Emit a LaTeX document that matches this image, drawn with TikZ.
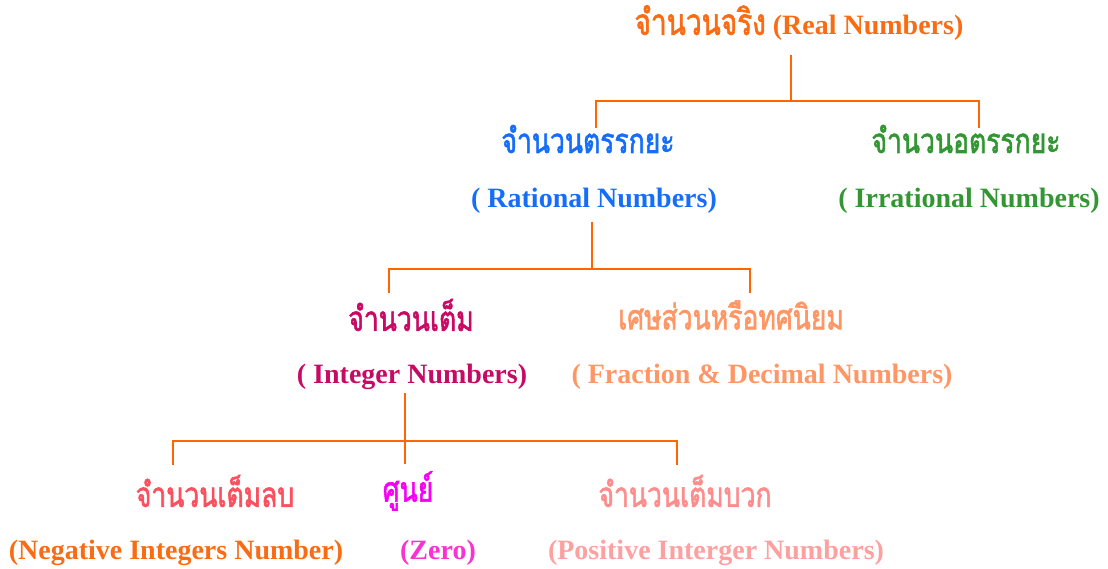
\documentclass[tikz,border=0pt]{standalone}
\usepackage{fontspec}
\setmainfont{Liberation Serif}
\newfontfamily\thaiface[Script=Thai, AutoFakeBold=2]{Loma}
\newcommand{\thtxt}[1]{\scalebox{1}[1.3]{\thaiface\bfseries #1}}
\definecolor{lineor}{RGB}{255,102,0}
\definecolor{cReal}{RGB}{250,108,20}
\definecolor{cRat}{RGB}{20,110,250}
\definecolor{cIrr}{RGB}{50,150,50}
\definecolor{cInt}{RGB}{200,10,100}
\definecolor{cFrac}{RGB}{255,150,100}
\definecolor{cNegT}{RGB}{250,80,95}
\definecolor{cNegE}{RGB}{250,108,20}
\definecolor{cZeroT}{RGB}{245,0,245}
\definecolor{cZeroE}{RGB}{250,50,210}
\definecolor{cPos}{RGB}{255,140,140}
\definecolor{cPosE}{RGB}{255,160,160}
\tikzset{
  lbl/.style={inner sep=0pt, font=\fontsize{28}{32}\selectfont\bfseries},
  th/.style={inner sep=0pt, font=\fontsize{26.5}{32}\selectfont},
  link/.style={draw=lineor, line width=2pt}
}
\begin{document}
\begin{tikzpicture}[x=1pt,y=-1pt]
\useasboundingbox (0,0) rectangle (1108,569);
% texts
\node[lbl, text=cReal] (real) at (799,23) {\thtxt{จำนวนจริง} (Real Numbers)};
\node[th, text=cRat] (ratT) at (588,139) {\thtxt{จำนวนตรรกยะ}};
\node[lbl, text=cRat] (ratE) at (594,201) {( Rational Numbers)};
\node[th, text=cIrr] (irrT) at (966,139) {\thtxt{จำนวนอตรรกยะ}};
\node[lbl, text=cIrr] (irrE) at (969,201) {( Irrational Numbers)};
\node[th, text=cInt] (intT) at (411,315) {\thtxt{จำนวนเต็ม}};
\node[lbl, text=cInt] (intE) at (412,377) {( Integer Numbers)};
\node[th, text=cFrac] (fracT) at (731,315) {\thtxt{เศษส่วนหรือทศนิยม}};
\node[lbl, text=cFrac] (fracE) at (762,377) {( Fraction \& Decimal Numbers)};
\node[th, text=cNegT] (negT) at (215,491) {\thtxt{จำนวนเต็มลบ}};
\node[lbl, text=cNegE] (negE) at (176,553) {(Negative Integers Number)};
\node[th, text=cZeroT] (zeroT) at (408,491) {\thtxt{ศูนย์}};
\node[lbl, text=cZeroE] (zeroE) at (438,553) {(Zero)};
\node[th, text=cPos] (posT) at (685,491) {\thtxt{จำนวนเต็มบวก}};
\node[lbl, text=cPosE] (posE) at (716,553) {(Positive Interger Numbers)};
% connectors
\coordinate (a0) at (791,55);
\coordinate (a1) at (791,101);
\coordinate (aL) at (596,128);
\coordinate (aR) at (979,128);
\draw[link] (a0) -- (a1);
\draw[link] (aL) |- (a1) -| (aR);
\coordinate (b0) at (592,222);
\coordinate (b1) at (592,269);
\coordinate (bL) at (389,293);
\coordinate (bR) at (750,293);
\draw[link] (b0) -- (b1);
\draw[link] (bL) |- (b1) -| (bR);
\coordinate (c0) at (405,393);
\coordinate (c1) at (405,441);
\coordinate (cL) at (173,465);
\coordinate (cM) at (405,464);
\coordinate (cR) at (677,465);
\draw[link] (c0) -- (cM);
\draw[link] (cL) |- (c1) -| (cR);
\end{tikzpicture}
\end{document}
